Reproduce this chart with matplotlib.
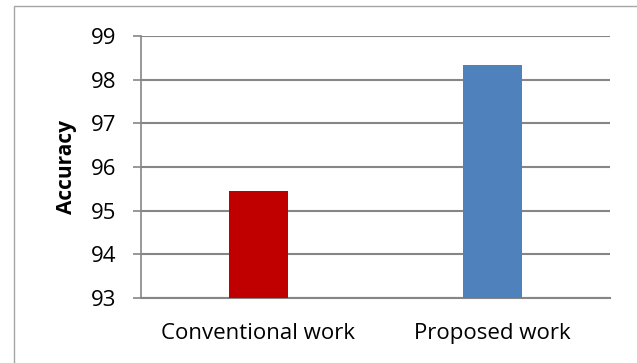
import matplotlib
matplotlib.use("Agg")
import matplotlib.pyplot as plt
from matplotlib.patches import Rectangle

categories = ["Conventional work", "Proposed work"]
accuracy = [95.44, 98.34]
colors = ["#C00000", "#4F81BD"]
yticks = [93, 94, 95, 96, 97, 98, 99]

plt.rcParams['font.family'] = ['Open Sans', 'DejaVu Sans']

fig = plt.figure(figsize=(6.37, 3.63), dpi=100)
ax = fig.add_axes([0.2214, 0.179, 0.7362, 0.7218])

# chart frame
fig.patches.append(Rectangle((14 / 637, -0.05), 1.0, 1.05 - 6 / 363,
                             transform=fig.transFigure, fill=False,
                             edgecolor="#A6A6A6", linewidth=1.0))

x = range(len(categories))
ax.bar(x, accuracy, width=0.25, color=colors, bottom=0, zorder=3)
ax.set_xlim(-0.5, 1.5)
ax.set_ylim(93, 99)
ax.set_yticks(yticks)
ax.set_xticks(list(x))
ax.set_xticklabels(categories, fontsize=16)
ax.tick_params(axis="x", length=0, pad=18)
ax.tick_params(axis="y", length=6, width=1.2, color="#868686", labelsize=16, pad=12)
ax.yaxis.grid(True, color="#868686", linewidth=1.5, zorder=0)
ax.set_axisbelow(True)

for s in ["top", "right"]:
    ax.spines[s].set_visible(False)
ax.spines["left"].set_color("#868686")
ax.spines["left"].set_linewidth(1.2)
ax.spines["bottom"].set_color("#868686")
ax.spines["bottom"].set_linewidth(1.5)

ax.set_ylabel("Accuracy", fontsize=15, fontweight="bold", labelpad=10)

plt.savefig("out.png", dpi=100)
